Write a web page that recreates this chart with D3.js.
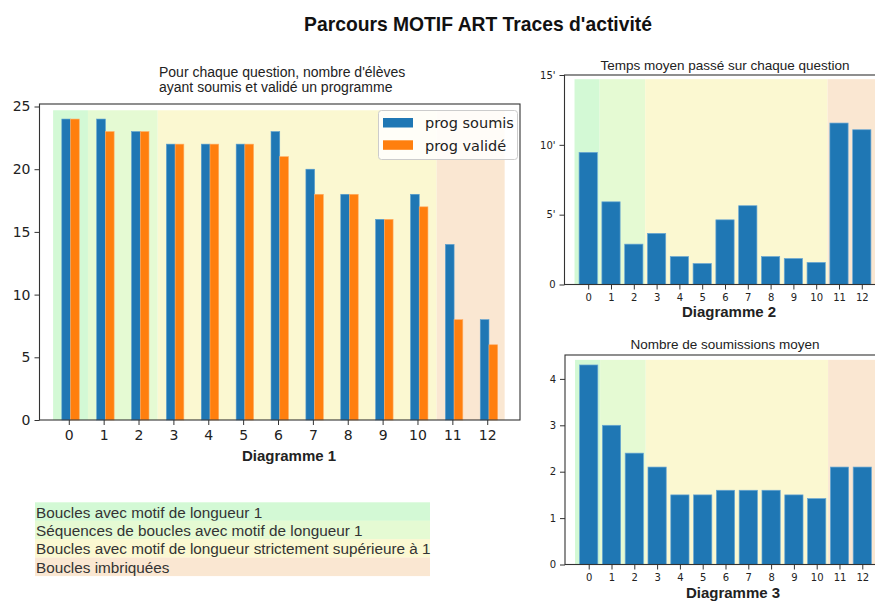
<!DOCTYPE html>
<html><head><meta charset="utf-8">
<script src="https://cdn.jsdelivr.net/npm/d3@7"></script>
<style>body{margin:0;background:#fff}svg{display:block}</style>
</head><body>
<svg id="c" width="875" height="602"></svg>
<script>
const categories = ["0","1","2","3","4","5","6","7","8","9","10","11","12"];
const progSoumis = [24,24,23,22,22,22,23,20,18,16,18,14,8];
const progValide = [24,23,23,22,22,22,21,18,18,16,17,8,6];
const tempsMoyen = [9.46,5.92,2.89,3.66,2.0,1.5,4.63,5.64,2.0,1.86,1.58,11.56,11.08];
const nbSoumissions = [4.3,3.0,2.4,2.1,1.5,1.5,1.6,1.6,1.6,1.5,1.42,2.1,2.1];
const groupNames = ["Boucles avec motif de longueur 1","Séquences de boucles avec motif de longueur 1","Boucles avec motif de longueur strictement supérieure à 1","Boucles imbriquées"];
const groupFirst = [0,1,3,11];
const groupLast = [0,2,10,12];
const groupColors = ["#d3f9d5","#e5fad3","#fbf8d1","#fae7d2"];
const ticks1 = [0,5,10,15,20,25];
const ticks2 = [0,5,10,15];
const ticks2Labels = ["0","5'","10'","15'"];
const ticks3 = [0,1,2,3,4];
const seriesNames = ["prog soumis","prog validé"];
const blue = "#1f77b4", orange = "#ff7f0e";

const svg = d3.select("#c");
const dj = "'DejaVu Sans', sans-serif";
const lib = "'Liberation Sans', Arial, sans-serif";

svg.append("text").attr("x",478).attr("y",30.5).attr("text-anchor","middle")
  .attr("font-family",lib).attr("font-weight","bold").attr("font-size",19.3).attr("fill","#111")
  .text("Parcours MOTIF ART Traces d'activité");

function drawAxes(o){
  const g = svg.append("g");
  const x = d3.scaleLinear().domain(o.xdom).range(o.xr);
  const y = d3.scaleLinear().domain(o.ydom).range(o.yr);
  const lo = i => i===0 ? groupFirst[i]+o.spanL : groupFirst[i]+o.spanB-1;
  const hi = i => i===3 ? groupLast[i]+o.spanR : groupLast[i]+o.spanB;
  g.selectAll("rect.span").data(groupColors).join("rect")
    .attr("x",(d,i)=>x(lo(i))).attr("width",(d,i)=>x(hi(i))-x(lo(i)))
    .attr("y",y(o.spanTop)).attr("height",y(0)-y(o.spanTop)).attr("fill",d=>d);
  o.bars(g,x,y);
  g.append("rect").attr("x",o.xr[0]).attr("y",o.yr[1]).attr("width",o.xr[1]-o.xr[0]).attr("height",o.yr[0]-o.yr[1])
    .attr("fill","none").attr("stroke","#333").attr("stroke-width",1.1);
  const yax = g.append("g").attr("transform",`translate(${o.xr[0]},0)`)
    .call(d3.axisLeft(y).tickValues(o.yticks).tickFormat((d,i)=>o.ylabels?o.ylabels[i]:d).tickSize(5).tickPadding(4));
  const xax = g.append("g").attr("transform",`translate(0,${o.yr[0]})`)
    .call(d3.axisBottom(x).tickValues(categories.map(Number)).tickFormat((d,i)=>categories[i]).tickSize(5).tickPadding(o.xpad));
  [yax,xax].forEach(a=>{a.select(".domain").remove();a.selectAll("line").attr("stroke","#333");
    a.selectAll("text").attr("font-family",dj).attr("font-size",o.fs).attr("fill","#222");});
  const t = svg.append("text").attr("font-family",lib).attr("font-size",o.tfs).attr("fill","#222").attr("text-anchor",o.tanchor);
  o.title.forEach((s,i)=>t.append("tspan").attr("x",o.tx).attr("y",o.ty+i*o.tlh).text(s));
  svg.append("text").attr("x",o.lx).attr("y",o.ly).attr("text-anchor","middle")
    .attr("font-family",lib).attr("font-weight","bold").attr("font-size",15).attr("fill","#222").text(o.xlabel);
}

// Diagramme 1
drawAxes({xdom:[-0.84,12.94],xr:[39.5,520],ydom:[0,25.2],yr:[420,104],
  spanL:-0.45,spanB:0.55,spanR:0.5,spanTop:24.7,yticks:ticks1,fs:14,xpad:5,
  title:["Pour chaque question, nombre d'élèves","ayant soumis et validé un programme"],tx:159,ty:77,tlh:15,tanchor:"start",tfs:14,
  xlabel:"Diagramme 1",lx:289,ly:461,
  bars:(g,x,y)=>{
    const w = x(0.25)-x(0);
    g.selectAll("rect.b").data(progSoumis).join("rect").attr("x",(d,i)=>x(i-0.2)).attr("width",w)
      .attr("y",d=>y(d)).attr("height",d=>y(0)-y(d)).attr("fill",blue).attr("stroke","#5a9fd0").attr("stroke-width",0.6);
    g.selectAll("rect.o").data(progValide).join("rect").attr("x",(d,i)=>x(i+0.05)).attr("width",w)
      .attr("y",d=>y(d)).attr("height",d=>y(0)-y(d)).attr("fill",orange).attr("stroke","#ffad66").attr("stroke-width",0.6);
  }});

// legend of chart 1
const lg = svg.append("g");
lg.append("rect").attr("x",378.5).attr("y",110.5).attr("width",139).attr("height",49).attr("rx",3)
  .attr("fill","#fff").attr("fill-opacity",0.85).attr("stroke","#ccc");
[blue,orange].forEach((c,i)=>{
  lg.append("rect").attr("x",383).attr("y",118+i*22.3).attr("width",30).attr("height",9.5).attr("fill",c);
  lg.append("text").attr("x",425).attr("y",128+i*22.5).attr("font-family",dj).attr("font-size",14.5).attr("fill","#222").text(seriesNames[i]);
});

// Diagramme 2
drawAxes({xdom:[-1.04,13.04],xr:[564.5,885.5],ydom:[0,15],yr:[284.5,75],
  spanL:-0.6,spanB:0.5,spanR:0.6,spanTop:14.7,yticks:ticks2,ylabels:ticks2Labels,fs:10,xpad:4,
  title:["Temps moyen passé sur chaque question"],tx:725,ty:70,tlh:0,tanchor:"middle",tfs:13.5,
  xlabel:"Diagramme 2",lx:729,ly:317,
  bars:(g,x,y)=>{
    g.selectAll("rect.b").data(tempsMoyen).join("rect").attr("x",(d,i)=>x(i-0.4)).attr("width",x(0.8)-x(0))
      .attr("y",d=>y(d)).attr("height",d=>y(0)-y(d)).attr("fill",blue).attr("stroke","#6aa7d3").attr("stroke-width",0.7);
  }});

// Diagramme 3
drawAxes({xdom:[-1.04,13.04],xr:[565,886],ydom:[0,4.515],yr:[564.5,355],
  spanL:-0.6,spanB:0.5,spanR:0.6,spanTop:4.41,yticks:ticks3,fs:10,xpad:4,
  title:["Nombre de soumissions moyen"],tx:725,ty:349,tlh:0,tanchor:"middle",tfs:13.5,
  xlabel:"Diagramme 3",lx:733,ly:598,
  bars:(g,x,y)=>{
    g.selectAll("rect.b").data(nbSoumissions).join("rect").attr("x",(d,i)=>x(i-0.4)).attr("width",x(0.8)-x(0))
      .attr("y",d=>y(d)).attr("height",d=>y(0)-y(d)).attr("fill",blue).attr("stroke","#6aa7d3").attr("stroke-width",0.7);
  }});

// group legend
const gl = svg.append("g");
groupNames.forEach((n,i)=>{
  gl.append("rect").attr("x",35).attr("y",502.3+i*18.4).attr("width",395).attr("height",18.6).attr("fill",groupColors[i]);
  gl.append("text").attr("x",36).attr("y",517.5+i*18.4).attr("font-family",lib).attr("font-size",15.3).attr("fill","#333").text(n);
});
</script>
</body></html>
